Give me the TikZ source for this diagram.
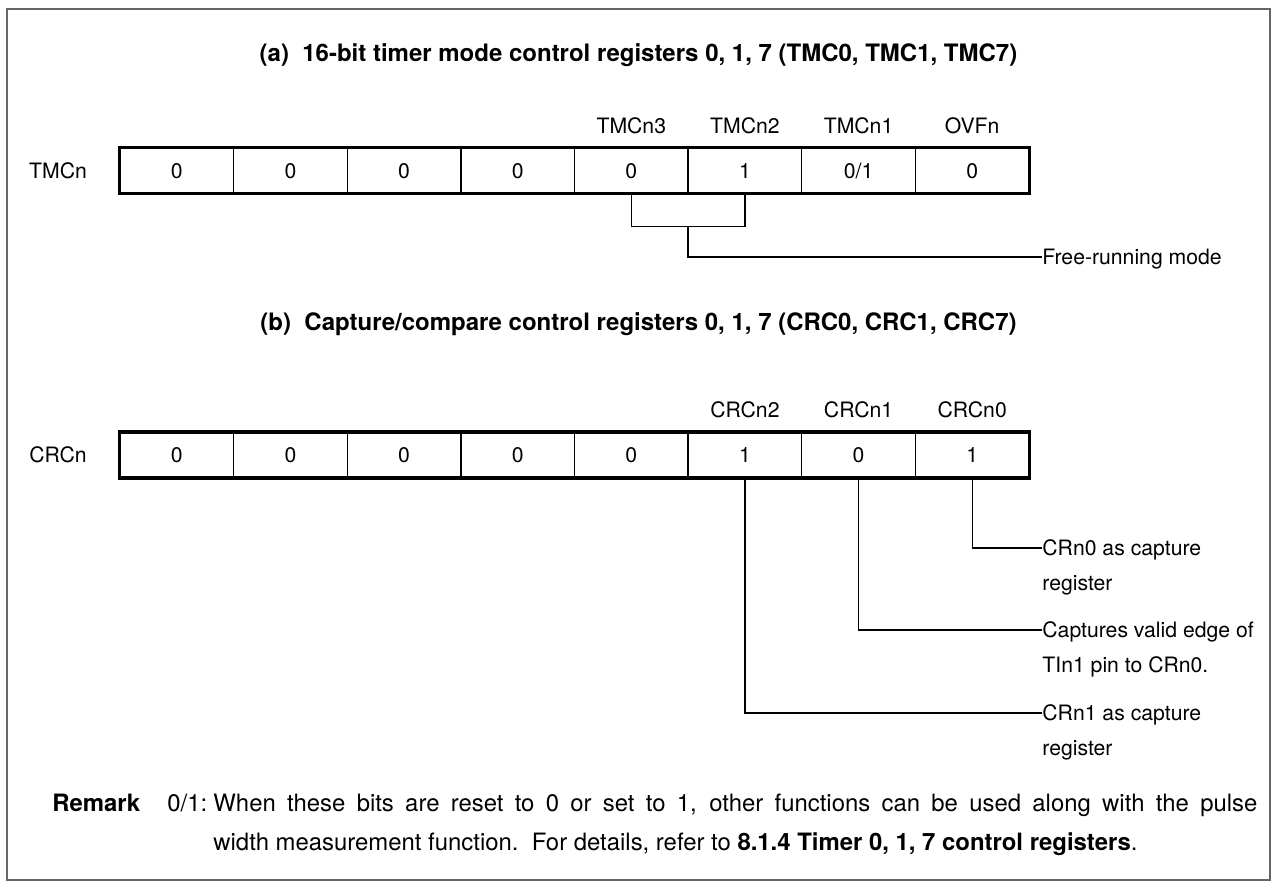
\documentclass[tikz,border=0pt]{standalone}
\usepackage{fontspec}
\setmainfont{TeX Gyre Heros}
\usetikzlibrary{calc}
\begin{document}
\begin{tikzpicture}[x=0.5pt,y=-0.5pt,
  every node/.style={font=\fontsize{10.6}{13}\selectfont},
  txt/.style={inner sep=0pt, text height=7.6pt, text depth=0pt},
  ttl/.style={inner sep=0pt, text height=8.6pt, text depth=0pt, font=\fontsize{12}{14}\selectfont\bfseries},
  rmk/.style={inner sep=0pt, text height=8.56pt, text depth=0pt, font=\fontsize{11.95}{14}\selectfont},
  cell/.style={draw, line width=0.65pt, minimum width=56.8125pt, minimum height=22.5pt,
    inner sep=0pt, text height=7.6pt, text depth=0pt},
  regframe/.style={line width=1.75pt},
  lead/.style={line width=0.65pt},
  frm/.style={draw=black!60, line width=0.8pt}]
\useasboundingbox (0,0) rectangle (1274,888);
\draw[frm] (7,9) rectangle (1270,880);

% (a) TMCn
\node[ttl] (ta) at (638.5,53) {(a)\ \ 16-bit timer mode control registers 0, 1, 7 (TMC0, TMC1, TMC7)};
\node[txt] (na) at (58,170.5) {TMCn};
\foreach \v [count=\i] in {0,0,0,0,0,1,{0/1},0}
  \node[cell] (a\i) at ({120+113.625*(\i-0.5)},170.5) {\v};
\draw[regframe] (a1.north west) rectangle (a8.south east);
\node[txt] (la5) at ($(a5.north)+(0,-21)$) {TMCn3};
\node[txt] (la6) at ($(a6.north)+(0,-21)$) {TMCn2};
\node[txt] (la7) at ($(a7.north)+(0,-21)$) {TMCn1};
\node[txt] (la8) at ($(a8.north)+(0,-21)$) {OVFn};
\coordinate (bl) at ($(a5.south)+(0,33)$);
\coordinate (br) at ($(a6.south)+(0,33)$);
\draw[lead] (a5.south) -- (bl) -- (br) -- (a6.south);
\coordinate (bm) at ($(bl)!0.5!(br)$);
\node[txt,anchor=west] (fr) at (1042,257) {Free-running mode};
\draw[lead] (bm) |- (fr.west);

% (b) CRCn
\node[ttl] (tb) at (638.5,322) {(b)\ \ Capture/compare control registers 0, 1, 7 (CRC0, CRC1, CRC7)};
\node[txt] (nb) at (58,455) {CRCn};
\foreach \v [count=\i] in {0,0,0,0,0,1,0,1}
  \node[cell] (b\i) at ({120+113.625*(\i-0.5)},455) {\v};
\draw[regframe] (b1.north west) rectangle (b8.south east);
\node[txt] (lb6) at ($(b6.north)+(0,-22)$) {CRCn2};
\node[txt] (lb7) at ($(b7.north)+(0,-22)$) {CRCn1};
\node[txt] (lb8) at ($(b8.north)+(0,-22)$) {CRCn0};

\node[txt,anchor=west] (c0a) at (1042,548) {CRn0 as capture};
\node[txt,anchor=base west] (c0b) at ($(c0a.base west)+(0,35)$) {register};
\node[txt,anchor=west] (c1a) at (1042,630) {Captures valid edge of};
\node[txt,anchor=base west] (c1b) at ($(c1a.base west)+(0,35)$) {TIn1 pin to CRn0.};
\node[txt,anchor=west] (c2a) at (1042,713) {CRn1 as capture};
\node[txt,anchor=base west] (c2b) at ($(c2a.base west)+(0,35)$) {register};
\draw[lead] (b8.south) |- (c0a.west);
\draw[lead] (b7.south) |- (c1a.west);
\draw[lead] (b6.south) |- (c2a.west);

% Remark
\node[rmk,anchor=west,font=\fontsize{11.95}{14}\selectfont\bfseries] (rm) at (52,803) {Remark};
\node[rmk,anchor=west] (r01) at (167,803) {0/1:};
\node[rmk,anchor=west] (r1) at (213,803) {\makebox[522pt][s]{When these bits are reset to 0 or set to 1, other functions can be used along with the pulse}};
\node[rmk,anchor=west] (r2) at (213,842) {width measurement function.\ \ For details, refer to \textbf{8.1.4 Timer 0, 1, 7 control registers}.};
\end{tikzpicture}
\end{document}
